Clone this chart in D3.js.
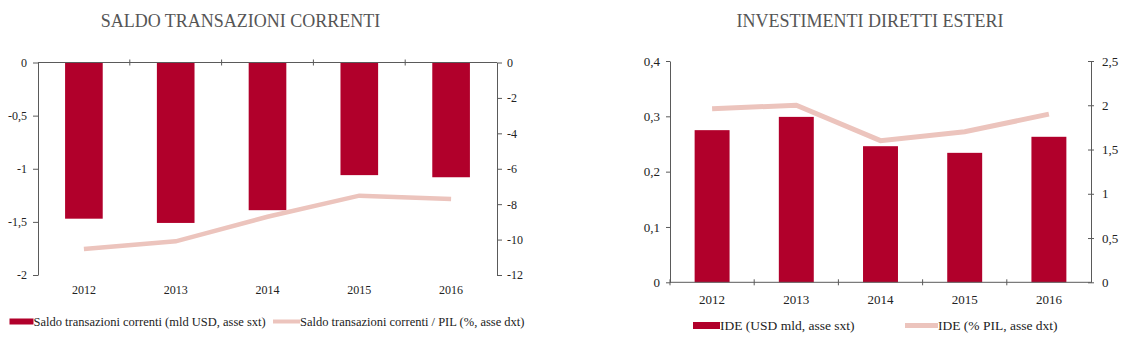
<!DOCTYPE html>
<html>
<head>
<meta charset="utf-8">
<script src="https://cdn.jsdelivr.net/npm/d3@7"></script>
<style>
  body { margin: 0; background: #fff; }
  svg text { font-family: "Liberation Serif", "Times New Roman", serif; }
</style>
</head>
<body>
<svg id="chart" width="1128" height="344" font-family="Liberation Serif, serif"></svg>
<script>
// data
const years = ["2012", "2013", "2014", "2015", "2016"];
const saldoUsd = [-1.47, -1.51, -1.39, -1.06, -1.08];      // mld USD, left axis
const saldoPil = [-10.53, -10.1, -8.71, -7.52, -7.71];     // % PIL, right axis
const ideUsd = [0.275, 0.299, 0.246, 0.234, 0.263];        // USD mld, left axis
const idePil = [1.96, 2.0, 1.6, 1.7, 1.9];                 // % PIL, right axis

const saldoUsdTicks = [0, -0.5, -1, -1.5, -2];
const saldoPilTicks = [0, -2, -4, -6, -8, -10, -12];
const ideUsdTicks = [0, 0.1, 0.2, 0.3, 0.4];
const idePilTicks = [0, 0.5, 1, 1.5, 2, 2.5];

const barColor = "#b1002b";
const lineColor = "#ecc4bd";
const axisColor = "#5a5a5a";
const textColor = "#222";

const svg = d3.select("#chart");
const fmt = d => String(d).replace(".", ",");

function styleAxis(g, fontSize) {
    g.attr("font-family", "Liberation Serif, serif").attr("font-size", fontSize);
    g.select(".domain").attr("stroke", axisColor);
    g.selectAll(".tick line").attr("stroke", axisColor);
    g.selectAll(".tick text")
        .attr("fill", textColor)
        .style("font-size", fontSize + "px");
}

// ---------- left chart: saldo transazioni correnti ----------
{
    const x = d3.scaleBand().domain(years).range([38, 497]);
    const y = d3.scaleLinear().domain([-2, 0]).range([275, 62.5]);
    const y2 = d3.scaleLinear().domain([-12, 0]).range([275, 62.5]);
    const barW = x.bandwidth() * 0.41;

    svg.append("text")
        .attr("x", 240.5).attr("y", 27)
        .attr("text-anchor", "middle")
        .attr("fill", "#555")
        .style("font-size", "18px")
        .text("SALDO TRANSAZIONI CORRENTI");

    svg.selectAll(".barL")
        .data(years)
        .join("rect")
        .attr("class", "barL")
        .attr("x", d => x(d) + (x.bandwidth() - barW) / 2)
        .attr("y", y(0))
        .attr("width", barW)
        .attr("height", (d, i) => y(saldoUsd[i]) - y(0))
        .attr("fill", barColor);

    const line = d3.line()
        .x((d, i) => x(years[i]) + x.bandwidth() / 2)
        .y(d => y2(d));
    svg.append("path")
        .datum(saldoPil)
        .attr("d", line)
        .attr("fill", "none")
        .attr("stroke", lineColor)
        .attr("stroke-width", 4.5);

    // zero line with category separators
    const gx = svg.append("g");
    gx.append("line")
        .attr("x1", 38).attr("x2", 497)
        .attr("y1", y(0)).attr("y2", y(0))
        .attr("stroke", axisColor);
    gx.selectAll(".sep")
        .data(years.slice(1))
        .join("line")
        .attr("x1", d => x(d)).attr("x2", d => x(d))
        .attr("y1", y(0) - 3).attr("y2", y(0) + 3)
        .attr("stroke", axisColor);

    svg.selectAll(".xlabL")
        .data(years)
        .join("text")
        .attr("class", "xlabL")
        .attr("x", d => x(d) + x.bandwidth() / 2)
        .attr("y", 294)
        .attr("text-anchor", "middle")
        .attr("fill", textColor)
        .style("font-size", "12px")
        .text(d => d);

    svg.append("g")
        .attr("transform", "translate(38,0)")
        .call(d3.axisLeft(y).tickValues(saldoUsdTicks).tickFormat(fmt).tickSize(5).tickSizeOuter(0).tickPadding(6))
        .call(g => styleAxis(g, 12));

    svg.append("g")
        .attr("transform", "translate(497,0)")
        .call(d3.axisRight(y2).tickValues(saldoPilTicks).tickFormat(fmt).tickSize(5).tickSizeOuter(0).tickPadding(5))
        .call(g => styleAxis(g, 12));

    // legend
    svg.append("rect")
        .attr("x", 9.5).attr("y", 318.5)
        .attr("width", 24).attr("height", 6)
        .attr("fill", barColor);
    svg.append("text")
        .attr("x", 33.5).attr("y", 325.5)
        .attr("fill", textColor)
        .style("font-size", "12.5px")
        .text("Saldo transazioni correnti (mld USD, asse sxt)");
    svg.append("line")
        .attr("x1", 273).attr("x2", 300)
        .attr("y1", 321.5).attr("y2", 321.5)
        .attr("stroke", lineColor)
        .attr("stroke-width", 4);
    svg.append("text")
        .attr("x", 300).attr("y", 325.5)
        .attr("fill", textColor)
        .style("font-size", "12.5px")
        .text("Saldo transazioni correnti / PIL (%, asse dxt)");
}

// ---------- right chart: investimenti diretti esteri ----------
{
    const x = d3.scaleBand().domain(years).range([670, 1091]);
    const y = d3.scaleLinear().domain([0, 0.4]).range([282.3, 61]);
    const y2 = d3.scaleLinear().domain([0, 2.5]).range([282.3, 61]);
    const barW = x.bandwidth() * 0.415;

    svg.append("text")
        .attr("x", 870).attr("y", 27)
        .attr("text-anchor", "middle")
        .attr("fill", "#555")
        .style("font-size", "18px")
        .text("INVESTIMENTI DIRETTI ESTERI");

    svg.selectAll(".barR")
        .data(years)
        .join("rect")
        .attr("class", "barR")
        .attr("x", d => x(d) + (x.bandwidth() - barW) / 2)
        .attr("y", (d, i) => y(ideUsd[i]))
        .attr("width", barW)
        .attr("height", (d, i) => y(0) - y(ideUsd[i]))
        .attr("fill", barColor);

    const line = d3.line()
        .x((d, i) => x(years[i]) + x.bandwidth() / 2)
        .y(d => y2(d));
    svg.append("path")
        .datum(idePil)
        .attr("d", line)
        .attr("fill", "none")
        .attr("stroke", lineColor)
        .attr("stroke-width", 5);

    const gx = svg.append("g");
    gx.append("line")
        .attr("x1", 670).attr("x2", 1091)
        .attr("y1", y(0)).attr("y2", y(0))
        .attr("stroke", axisColor);
    gx.selectAll(".sep")
        .data(years)
        .join("line")
        .attr("x1", d => x(d)).attr("x2", d => x(d))
        .attr("y1", y(0) - 3).attr("y2", y(0) + 3)
        .attr("stroke", axisColor);

    svg.selectAll(".xlabR")
        .data(years)
        .join("text")
        .attr("class", "xlabR")
        .attr("x", d => x(d) + x.bandwidth() / 2)
        .attr("y", 303.5)
        .attr("text-anchor", "middle")
        .attr("fill", textColor)
        .style("font-size", "13px")
        .text(d => d);

    svg.append("g")
        .attr("transform", "translate(670,0)")
        .call(d3.axisLeft(y).tickValues(ideUsdTicks).tickFormat(fmt).tickSize(4).tickSizeOuter(0).tickPadding(6))
        .call(g => styleAxis(g, 13));

    svg.append("g")
        .attr("transform", "translate(1091,0)")
        .call(d3.axisRight(y2).tickValues(idePilTicks).tickFormat(fmt).tickSize(3).tickSizeOuter(0).tickPadding(8))
        .call(g => styleAxis(g, 13))
        .call(g => g.selectAll(".tick line").attr("x1", -3));

    // legend
    svg.append("rect")
        .attr("x", 693).attr("y", 322)
        .attr("width", 27).attr("height", 7)
        .attr("fill", barColor);
    svg.append("text")
        .attr("x", 720).attr("y", 330)
        .attr("fill", textColor)
        .style("font-size", "13.5px")
        .text("IDE (USD mld, asse sxt)");
    svg.append("line")
        .attr("x1", 905).attr("x2", 938)
        .attr("y1", 325.5).attr("y2", 325.5)
        .attr("stroke", lineColor)
        .attr("stroke-width", 5);
    svg.append("text")
        .attr("x", 938).attr("y", 330)
        .attr("fill", textColor)
        .style("font-size", "13.5px")
        .text("IDE (% PIL, asse dxt)");
}
</script>
</body>
</html>
